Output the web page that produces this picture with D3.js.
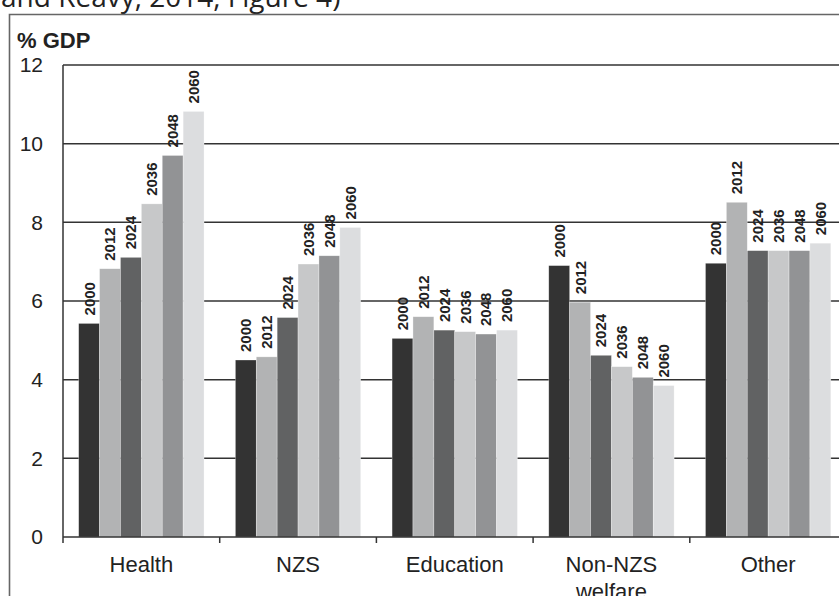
<!DOCTYPE html>
<html>
<head>
<meta charset="utf-8">
<script src="https://cdn.jsdelivr.net/npm/d3@7"></script>
<style>
  html, body { margin: 0; padding: 0; background: #fff; overflow: hidden; }
  svg { display: block; }
</style>
</head>
<body>
<svg id="chart" width="839" height="596"></svg>
<script>
// ---- Data ----
const categories = ["Health", "NZS", "Education", "Non-NZS welfare", "Other"];
const categoryLines = [["Health"], ["NZS"], ["Education"], ["Non-NZS", "welfare"], ["Other"]];
const years = ["2000", "2012", "2024", "2036", "2048", "2060"];
const values2000 = [5.43, 4.50, 5.05, 6.90, 6.96];
const values2012 = [6.82, 4.58, 5.60, 5.97, 8.51];
const values2024 = [7.11, 5.58, 5.26, 4.62, 7.28];
const values2036 = [8.47, 6.94, 5.22, 4.33, 7.28];
const values2048 = [9.70, 7.15, 5.16, 4.06, 7.28];
const values2060 = [10.82, 7.87, 5.26, 3.85, 7.47];
const yTicks = [0, 2, 4, 6, 8, 10, 12];
const yAxisTitle = "% GDP";
const headerText = "and Reavy, 2014, Figure 4)";

const seriesValues = [values2000, values2012, values2024, values2036, values2048, values2060];
const colors = ["#333333", "#b2b3b4", "#616263", "#c7c8c9", "#929395", "#dcdddf"];

const rows = [];
categories.forEach((c, ci) => {
  years.forEach((yr, yi) => {
    rows.push({ category: c, year: yr, value: seriesValues[yi][ci], color: colors[yi] });
  });
});

// ---- Layout ----
const svg = d3.select("#chart");
const plotLeft = 63, plotTop = 65, plotBottom = 537;
const catWidth = 156.7;
const plotRight = plotLeft + catWidth * categories.length;

const x = d3.scaleBand().domain(categories).range([plotLeft, plotRight]).padding(0);
const bw = x.bandwidth();
const xInner = d3.scaleBand().domain(years).range([0.1 * bw, 0.9 * bw]).padding(0);
const y = d3.scaleLinear().domain([0, 12]).range([plotBottom, plotTop]);

// header text (cropped at top)
svg.append("text")
  .attr("x", 1).attr("y", 7)
  .attr("font-family", "'Open Sans', sans-serif")
  .attr("font-size", 28)
  .attr("fill", "#222")
  .text(headerText);

// outer box
svg.append("path")
  .attr("d", `M9.5,600 V14.5 H845`)
  .attr("fill", "none")
  .attr("stroke", "#666")
  .attr("stroke-width", 1.6);

// y axis title
svg.append("text")
  .attr("x", 17).attr("y", 48)
  .attr("font-family", "'Liberation Sans', Arial, sans-serif")
  .attr("font-weight", "bold")
  .attr("font-size", 22)
  .attr("fill", "#222")
  .text(yAxisTitle);

// gridlines
svg.append("g")
  .selectAll("line")
  .data(yTicks.filter(d => d > 0))
  .join("line")
  .attr("x1", plotLeft).attr("x2", plotRight)
  .attr("y1", d => y(d)).attr("y2", d => y(d))
  .attr("stroke", "#333")
  .attr("stroke-width", 1.5);

// bars
svg.append("g")
  .selectAll("rect")
  .data(rows)
  .join("rect")
  .attr("x", d => x(d.category) + xInner(d.year))
  .attr("width", xInner.bandwidth())
  .attr("y", d => y(d.value))
  .attr("height", d => y(0) - y(d.value))
  .attr("fill", d => d.color)
  .attr("stroke", "#ffffff")
  .attr("stroke-opacity", 0.5)
  .attr("stroke-width", 0.6);

// year labels
svg.append("g")
  .selectAll("text")
  .data(rows)
  .join("text")
  .attr("transform", d => {
    const cx = x(d.category) + xInner(d.year) + xInner.bandwidth() / 2;
    const cy = y(d.value) - 8;
    return `translate(${cx},${cy}) rotate(-90)`;
  })
  .attr("dy", "0.36em")
  .attr("text-anchor", "start")
  .attr("font-family", "'Liberation Sans', Arial, sans-serif")
  .attr("font-weight", "bold")
  .attr("font-size", 15)
  .attr("fill", "#222")
  .text(d => d.year);

// y axis
const yAxis = d3.axisLeft(y).tickValues(yTicks).tickSize(0).tickPadding(20).tickFormat(d3.format("d"));
const yG = svg.append("g").attr("transform", `translate(${plotLeft},0)`).call(yAxis);
yG.select(".domain").remove();
yG.selectAll("text")
  .attr("font-family", "'Liberation Sans', Arial, sans-serif")
  .attr("font-size", 21)
  .attr("fill", "#222");

svg.append("line")
  .attr("x1", plotLeft).attr("x2", plotLeft)
  .attr("y1", plotTop).attr("y2", plotBottom + 6)
  .attr("stroke", "#333").attr("stroke-width", 1.5);

// x axis
const xAxis = d3.axisBottom(x).tickSize(0).tickFormat(() => "");
const xG = svg.append("g").attr("transform", `translate(0,${plotBottom})`).call(xAxis);
xG.select(".domain").remove();
svg.append("line")
  .attr("x1", plotLeft).attr("x2", plotRight)
  .attr("y1", plotBottom).attr("y2", plotBottom)
  .attr("stroke", "#333").attr("stroke-width", 1.5);
svg.append("g")
  .selectAll("line")
  .data(categories.slice(1))
  .join("line")
  .attr("x1", d => x(d)).attr("x2", d => x(d))
  .attr("y1", plotBottom).attr("y2", plotBottom + 6)
  .attr("stroke", "#333").attr("stroke-width", 1.5);

// category labels
const catG = svg.append("g");
categories.forEach((c, i) => {
  const t = catG.append("text")
    .attr("x", x(c) + bw / 2)
    .attr("y", 572)
    .attr("text-anchor", "middle")
    .attr("font-family", "'Liberation Sans', Arial, sans-serif")
    .attr("font-size", 22)
    .attr("fill", "#222");
  categoryLines[i].forEach((line, li) => {
    t.append("tspan")
      .attr("x", x(c) + bw / 2)
      .attr("dy", li === 0 ? 0 : 27)
      .text(line);
  });
});
</script>
</body>
</html>
